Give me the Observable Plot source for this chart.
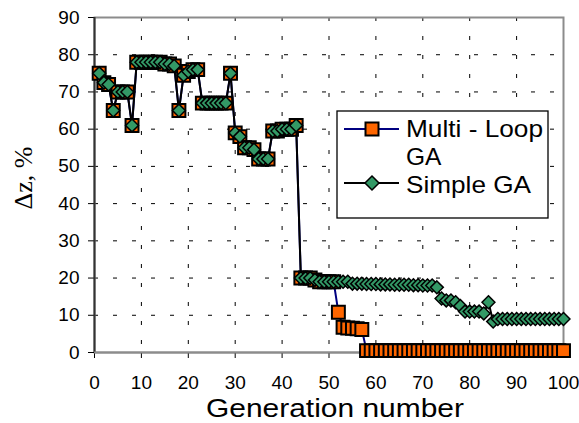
<!DOCTYPE html>
<html><head><meta charset="utf-8">
<script src="https://cdn.jsdelivr.net/npm/d3@7"></script>
<script src="https://cdn.jsdelivr.net/npm/@observablehq/plot@0.6"></script>
<style>body{margin:0;background:#fff}</style>
</head><body><div id="chart"></div>
<script>
const generations = [1,2,3,4,5,6,7,8,9,10,11,12,13,14,15,16,17,18,19,20,21,22,23,24,25,26,27,28,29,30,31,32,33,34,35,36,37,38,39,40,41,42,43,44,45,46,47,48,49,50,51,52,53,54,55,56,57,58,59,60,61,62,63,64,65,66,67,68,69,70,71,72,73,74,75,76,77,78,79,80,81,82,83,84,85,86,87,88,89,90,91,92,93,94,95,96,97,98,99,100];
const simpleGA = [75,72.5,72,65,70,70,70,61,78,78,78,78,78,78,77.5,77.5,77,65,74.5,75.5,76,76,67,67,67,67,67,67,75,59,58,55,55,54.5,52,52,52,59.5,59.5,60,60,60,61,20,20,20,19.5,19,19,19,19,19,19,19,18.5,18.5,18.5,18.4,18.4,18.4,18.3,18.3,18.3,18.2,18.2,18.2,18.2,18.1,18.1,18,18,18,17.5,14.5,14,14,13.5,12.5,11,11,11,11,10.5,13.5,8.3,9,9,9,9,9,9,9,9,9,9,9,9,9,9,9];
const multiLoopGA = [75,72.5,72,65,70,70,70,61,78,78,78,78,78,78,77.5,77.5,77,65,74.5,75.5,76,76,67,67,67,67,67,67,75,59,58,55,55,54.5,52,52,52,59.5,59.5,60,60,60,61,20,20,20,19.5,19,19,19,19,10.8,6.8,6.6,6.5,6.4,6.2,0.5,0.5,0.5,0.5,0.5,0.5,0.5,0.5,0.5,0.5,0.5,0.5,0.5,0.5,0.5,0.5,0.5,0.5,0.5,0.5,0.5,0.5,0.5,0.5,0.5,0.5,0.5,0.5,0.5,0.5,0.5,0.5,0.5,0.5,0.5,0.5,0.5,0.5,0.5,0.5,0.5,0.5,0.5];
const xTicks = [0,10,20,30,40,50,60,70,80,90,100];
const yTicks = [0,10,20,30,40,50,60,70,80,90];
const xGrid = [10,20,30,40,50,60,70,80,90];
const yGrid = [10,20,30,40,50,60,70,80];
const legendLines = [["Multi - Loop", "GA"], ["Simple GA"]];
const xTitle = "Generation number";
const yTitle = "Δz, %";

const simple = generations.map((g, i) => ({g, v: simpleGA[i]}));
const multi = generations.map((g, i) => ({g, v: multiLoopGA[i]}));

const plot = Plot.plot({
  width: 579, height: 423,
  marginLeft: 94, marginRight: 16, marginTop: 17, marginBottom: 71,
  x: {domain: [0, 100]},
  y: {domain: [0, 90]},
  style: {fontFamily: "'Liberation Sans', Arial, sans-serif", fontSize: "19px", background: "#fff", color: "#000", overflow: "visible"},
  marks: [
    Plot.ruleX(xGrid, {stroke: "#000", strokeWidth: 1, strokeDasharray: "4,15"}),
    Plot.ruleY(yGrid, {stroke: "#000", strokeWidth: 1, strokeDasharray: "4,15"}),
    Plot.frame({stroke: "#8c8c8c", strokeWidth: 2}),
    Plot.axisX({ticks: xTicks, tickSize: 6, tickPadding: 17, label: null, tickFormat: d => String(d)}),
    Plot.axisY({ticks: yTicks, tickSize: 6, tickPadding: 9, label: null, tickFormat: d => String(d)}),
    Plot.ruleX([0], {stroke: "#333", strokeWidth: 2}),
    Plot.ruleY([0], {stroke: "#8c8c8c", strokeWidth: 2}),
    Plot.line(multi, {x: "g", y: "v", stroke: "#000080", strokeWidth: 2}),
    Plot.dot(multi, {x: "g", y: "v", symbol: "square", r: 7.3, fill: "#ff6600", stroke: "#000", strokeWidth: 2}),
    Plot.line(simple, {x: "g", y: "v", stroke: "#000", strokeWidth: 2}),
    Plot.dot(simple, {x: "g", y: "v", symbol: "diamond2", r: 5.8, fill: "#339966", stroke: "#000", strokeWidth: 1.5})
  ]
});
document.getElementById("chart").appendChild(plot);

const svg = d3.select(plot);
// legend
const lg = svg.append("g").attr("font-family", "'Liberation Sans', Arial, sans-serif").attr("font-size", 24.5).attr("text-anchor", "start");
lg.append("rect").attr("x", 337).attr("y", 111).attr("width", 211).attr("height", 107)
  .attr("fill", "#fff").attr("stroke", "#000").attr("stroke-width", 1.3);
lg.append("line").attr("x1", 344).attr("x2", 399).attr("y1", 129).attr("y2", 129).attr("stroke", "#000080").attr("stroke-width", 2);
lg.append("rect").attr("x", 372 - 6.5).attr("y", 129 - 6.5).attr("width", 13).attr("height", 13)
  .attr("fill", "#ff6600").attr("stroke", "#000").attr("stroke-width", 2);
lg.append("text").attr("x", 406).attr("y", 128).attr("dy", "0.35em").attr("textLength", 137).attr("lengthAdjust", "spacingAndGlyphs").text(legendLines[0][0]);
lg.append("text").attr("x", 406).attr("y", 156).attr("dy", "0.35em").text(legendLines[0][1]);
lg.append("line").attr("x1", 344).attr("x2", 399).attr("y1", 183).attr("y2", 183).attr("stroke", "#000").attr("stroke-width", 2);
lg.append("path").attr("d", "M372,176L379,183L372,190L365,183Z")
  .attr("fill", "#339966").attr("stroke", "#000").attr("stroke-width", 1.5);
lg.append("text").attr("x", 406).attr("y", 184).attr("dy", "0.35em").attr("textLength", 125).attr("lengthAdjust", "spacingAndGlyphs").text(legendLines[1][0]);

// titles
svg.append("text").attr("x", 335).attr("y", 408).attr("dy", "0.35em").attr("text-anchor", "middle")
  .attr("font-family", "'Liberation Sans', Arial, sans-serif").attr("font-size", 26)
  .attr("textLength", 258).attr("lengthAdjust", "spacingAndGlyphs").text(xTitle);
svg.append("text").attr("transform", "translate(23,178) rotate(-90)").attr("dy", "0.35em").attr("text-anchor", "middle")
  .attr("font-family", "'Liberation Serif', 'Times New Roman', serif").attr("font-size", 26).text(yTitle);
</script>
</body></html>
